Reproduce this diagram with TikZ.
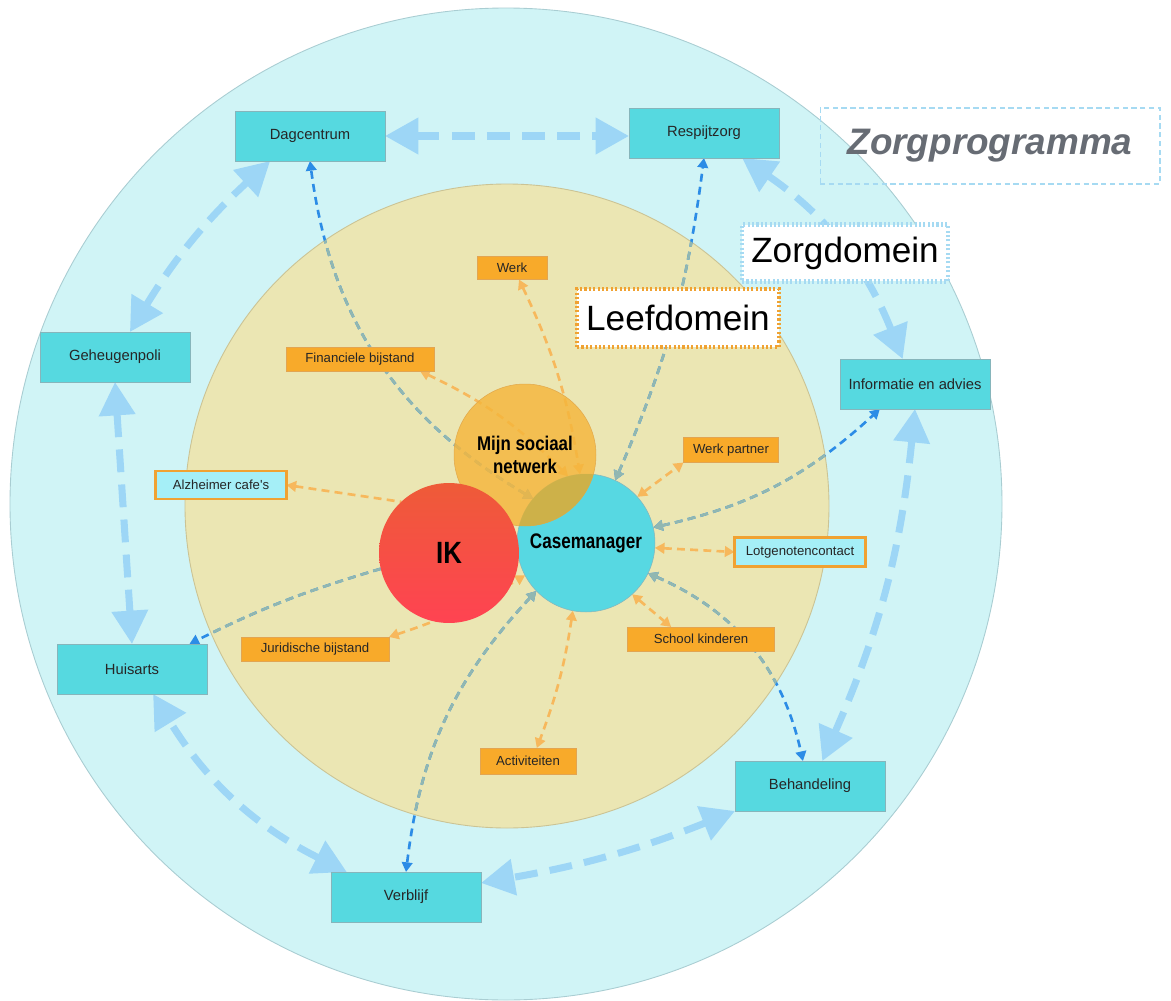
\documentclass[tikz,border=0pt]{standalone}
\usepackage{fontspec}
\setmainfont{Liberation Sans}
\usepackage{graphicx}
\usetikzlibrary{arrows.meta,shapes}

\definecolor{ringblauw}{HTML}{D0F4F6}
\definecolor{ringrand}{HTML}{A9CDD2}
\definecolor{leefgeel}{HTML}{EBE6B3}
\definecolor{leefrand}{HTML}{CBC394}
\definecolor{tealvak}{HTML}{56D9E0}
\definecolor{tealrand}{HTML}{86B5BB}
\definecolor{oranjevak}{HTML}{F8AA2A}
\definecolor{oranjerand}{HTML}{E2A552}
\definecolor{lichtvak}{HTML}{A5EFF7}
\definecolor{pijlblauw}{HTML}{9DD6F6}
\definecolor{lijnblauw}{HTML}{2C8CE6}
\definecolor{lijngrijs}{HTML}{91B7B1}
\definecolor{lijnoranje}{HTML}{F7B85C}
\definecolor{netwerkoranje}{HTML}{F5B63C}
\definecolor{netwerkrand}{HTML}{E2A84A}
\definecolor{overlapkleur}{HTML}{CDB149}
\definecolor{casekleur}{HTML}{57D8E2}
\definecolor{ikboven}{HTML}{EE5B38}
\definecolor{ikonder}{HTML}{FF4352}
\definecolor{titelgrijs}{HTML}{676C74}
\definecolor{domeinblauw}{HTML}{A6DAF2}
\definecolor{domeinoranje}{HTML}{F0A232}

\pgfdeclarelayer{ring}
\pgfdeclarelayer{lijnen}
\pgfsetlayers{ring,lijnen,main}

\newcommand{\zorglijnen}[1]{%
  \draw[#1] (cm.140) to[bend left=26] (dag.south);
  \draw[#1] (cm.65) to[bend right=8] (resp.south);
  \draw[#1] (cm.13) to[bend right=15] ([xshift=-20pt]info.south);
  \draw[#1] (cm.-26) to[bend left=27] ([xshift=-4pt]beh.north);
  \draw[#1] (cm.224) to[bend right=18] (verb.north);
  \draw[#1,->] (ik.193) to[bend right=5] ([xshift=-10pt]huis.north east);
}

\begin{document}
\begin{tikzpicture}[x=0.02cm, y=-0.02cm,
  every node/.style={font=\fontsize{8.4}{10}\selectfont, text=black!85, inner sep=0pt, outer sep=0pt},
  zorgvak/.style={rectangle, draw=tealrand, line width=0.5pt, fill=tealvak, minimum width=3cm, minimum height=1cm},
  leefvak/.style={rectangle, draw=oranjerand, line width=0.5pt, fill=oranjevak, minimum height=0.48cm, font=\fontsize{7.5}{9}\selectfont},
  lotgvak/.style={rectangle, draw=domeinoranje, line width=1.4pt, fill=lichtvak, minimum height=0.56cm, font=\fontsize{7.5}{9}\selectfont},
  kern/.style={circle, text=black, font=\fontsize{12}{14}\selectfont\bfseries},
  domein/.style={rectangle, fill=white, line width=2.6pt, dash pattern=on 1.2pt off 1.3pt, font=\fontsize{20}{24}\selectfont, text=black},
  fijn/.style={line width=1.5pt, dash pattern=on 4.5pt off 3pt, >={Triangle[length=5.5pt,width=6pt]}, <->},
  blauwlijn/.style={fijn, draw=lijnblauw},
  grijslijn/.style={fijn, draw=lijngrijs},
  oranjelijn/.style={fijn, draw=lijnoranje},
  zorgpijl/.style={line width=4pt, draw=pijlblauw, dash pattern=on 13pt off 7pt, >={Triangle[length=19pt,width=20pt]}, <->}]

\useasboundingbox (0,0) rectangle (1171,1001);

\begin{pgfonlayer}{ring}
  \fill[ringblauw, draw=ringrand, line width=0.5pt] (506,504) circle[radius=496];
  \fill[leefgeel, draw=leefrand, line width=0.5pt] (507,506) circle[radius=322];
\end{pgfonlayer}

\node[zorgvak] (dag) at (310,136) {Dagcentrum};
\node[zorgvak] (resp) at (704,133) {Respijtzorg};
\node[zorgvak] (geh) at (115,357) {Geheugenpoli};
\node[zorgvak] (info) at (915,384) {Informatie en advies};
\node[zorgvak] (huis) at (132,669) {Huisarts};
\node[zorgvak] (verb) at (406,897) {Verblijf};
\node[zorgvak] (beh) at (810,786) {Behandeling};

\node[leefvak, minimum width=1.4cm, minimum height=0.46cm] (werk) at (512,268) {Werk};
\node[leefvak, minimum width=2.96cm] (fin) at (360,359) {Financiele bijstand};
\node[lotgvak, minimum width=2.62cm] (alz) at (221,485) {Alzheimer cafe\textquotesingle s};
\node[leefvak, minimum width=1.9cm, minimum height=0.5cm] (wp) at (731,450) {Werk partner};
\node[lotgvak, minimum width=2.62cm, minimum height=0.58cm] (lotg) at (800,552) {Lotgenotencontact};
\node[leefvak, minimum width=2.94cm] (school) at (701,639) {School kinderen};
\node[leefvak, minimum width=2.96cm] (jur) at (315,649) {Juridische bijstand};
\node[leefvak, minimum width=1.92cm, minimum height=0.52cm] (act) at (528,761) {Activiteiten};

\node[kern, fill=casekleur, draw=tealrand, line width=0.3pt, minimum size=2.76cm] (cm) at (586,543) {\scalebox{0.81}[1]{Casemanager}};
\node[kern, fill=netwerkoranje, fill opacity=0.82, text opacity=1, draw=netwerkrand, line width=0.3pt, minimum size=2.84cm, align=center, font=\fontsize{11.3}{13.4}\selectfont\bfseries] (mijn) at (525,455) {\scalebox{0.85}[1]{Mijn sociaal}\\\scalebox{0.85}[1]{netwerk}};
\begin{scope}
  \clip (586,543) circle[radius=69];
  \fill[overlapkleur] (525,455) circle[radius=71];
\end{scope}
\node[kern, top color=ikboven, bottom color=ikonder, minimum size=2.8cm, font=\fontsize{17.5}{20}\selectfont\bfseries] (ik) at (449,553) {\scalebox{0.84}[1]{IK}};

\node[domein, draw=domeinblauw, minimum width=4.12cm, minimum height=1.14cm] (zorgdomein) at (845,253) {Zorgdomein};
\node[domein, draw=domeinoranje, minimum width=4.04cm, minimum height=1.16cm] (leefdomein) at (678,318) {Leefdomein};
\node[draw=domeinblauw, line width=0.6pt, dash pattern=on 3pt off 2pt, minimum width=6.8cm, minimum height=1.52cm, font=\fontsize{21}{25}\selectfont\bfseries\itshape, text=titelgrijs] (programma) at (990,146) {Zorgprogramma};

\begin{pgfonlayer}{lijnen}
  \draw[zorgpijl] (dag.east) -- (dag.east -| resp.west);
  \draw[zorgpijl] ([xshift=-21pt]resp.south east) to[bend left=17] ([xshift=-7pt]info.north);
  \draw[zorgpijl] (info.south) to[bend left=9] ([xshift=7pt]beh.north);
  \draw[zorgpijl] (beh.south west) to[bend left=6] ([yshift=8pt]verb.east);
  \draw[zorgpijl] ([xshift=9pt]verb.north west) to[bend left=16] ([xshift=12pt]huis.south);
  \draw[zorgpijl] (huis.north) -- (geh.south);
  \draw[zorgpijl] ([xshift=8.5pt]geh.north) to[bend left=8] ([xshift=20pt]dag.south west);

  \zorglijnen{blauwlijn}
  \begin{scope}
    \clip (507,506) circle[radius=322];
    \zorglijnen{grijslijn}
  \end{scope}

  \draw[oranjelijn] ([xshift=4pt]werk.south) to[bend left=8] (cm.95);
  \draw[oranjelijn] ([xshift=-8pt]fin.south east) to[bend left=10] (cm.105);
  \draw[oranjelijn, <-] (alz.east) -- (ik.133);
  \draw[oranjelijn] (cm.42) -- (wp.south west);
  \draw[oranjelijn] (cm.-4) -- (lotg.west);
  \draw[oranjelijn] (cm.-48) -- ([xshift=-17pt]school.north);
  \draw[oranjelijn] (cm.-101) to[bend left=6] ([xshift=5pt]act.north);
  \draw[oranjelijn] (jur.north east) to[bend right=6] (cm.208);
\end{pgfonlayer}

\end{tikzpicture}
\end{document}
